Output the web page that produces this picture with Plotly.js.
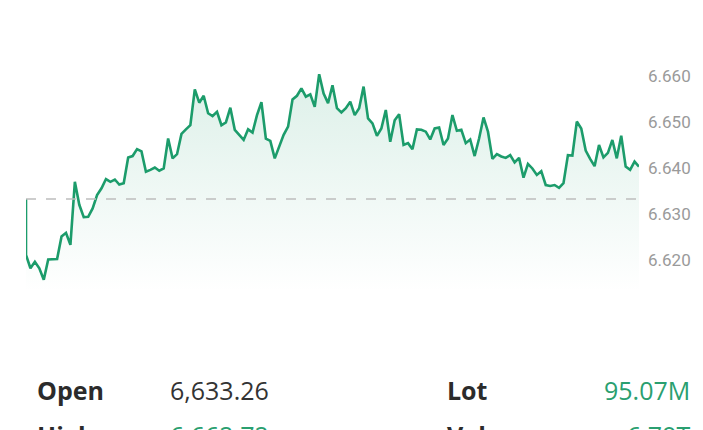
<!DOCTYPE html>
<html>
<head>
<meta charset="utf-8">
<script src="https://cdn.plot.ly/plotly-3.0.1.min.js"></script>
<style>
  html, body { margin: 0; padding: 0; background: #ffffff; }
  #chart { width: 703px; height: 430px; }
</style>
</head>
<body>
<div id="chart"></div>
<script>
// Index level (intraday), first value is the open
const openPrice = 6633.26;
const prices = [
  6633.26, 6621.1, 6618.2, 6619.6, 6618.2, 6615.7, 6620.1, 6620.2, 6620.2, 6625.1,
  6625.9, 6623.3, 6637.0, 6632.0, 6629.3, 6629.4, 6631.2, 6634.1, 6635.6, 6637.6,
  6637.0, 6637.5, 6636.4, 6636.7, 6642.3, 6642.6, 6644.1, 6643.6, 6639.2, 6639.6,
  6640.1, 6639.4, 6639.9, 6646.4, 6642.1, 6643.0, 6647.4, 6648.4, 6649.3, 6657.1,
  6654.2, 6655.7, 6651.9, 6651.3, 6652.2, 6649.3, 6649.9, 6653.1, 6648.3, 6647.2,
  6646.1, 6648.4, 6647.7, 6651.5, 6654.3, 6646.4, 6645.9, 6642.1, 6644.6, 6647.2,
  6649.0, 6654.9, 6655.7, 6657.3, 6655.5, 6656.0, 6653.3, 6660.4, 6656.2, 6654.1,
  6658.0, 6653.0, 6652.1, 6653.0, 6654.4, 6651.5, 6653.0, 6657.7, 6650.8, 6649.7,
  6647.0, 6648.6, 6652.6, 6645.7, 6650.4, 6651.7, 6645.0, 6645.4, 6644.1, 6648.4,
  6648.3, 6647.9, 6646.2, 6648.6, 6648.8, 6645.0, 6646.4, 6651.5, 6648.1, 6648.3,
  6645.4, 6646.2, 6642.6, 6646.4, 6651.0, 6647.9, 6642.0, 6643.0, 6642.5, 6642.2,
  6642.8, 6641.2, 6642.2, 6637.9, 6640.9, 6639.9, 6638.5, 6639.3, 6636.3, 6636.1,
  6636.3, 6635.7, 6636.7, 6642.8, 6642.7, 6650.1, 6648.6, 6643.8, 6642.0, 6640.4,
  6645.0, 6642.3, 6643.3, 6646.1, 6642.1, 6647.0, 6640.3, 6639.6, 6641.4, 6640.3
];
// time step index (the open sits at the same time as the first trade)
const steps = prices.map((_, i) => (i === 0 ? 0 : i - 1));

const tickValues = [6620, 6630, 6640, 6650, 6660];

const statLabels = ["Open", "Lot", "High", "Value"];
const statValues = ["6,633.26", "95.07M", "6,662.72", "6.79T"];

const green = "#1c9c6b";

const trace = {
  x: steps,
  y: prices,
  type: "scatter",
  mode: "lines",
  line: { color: green, width: 2.6 },
  fill: "tozeroy",
  fillgradient: {
    type: "vertical",
    start: 6613,
    stop: 6660,
    colorscale: [[0, "rgba(28,156,107,0)"], [1, "rgba(28,156,107,0.15)"]]
  },
  hoverinfo: "skip"
};

const lastStep = steps[steps.length - 1];

const annFont = "'Open Sans', sans-serif";
const row1 = -0.39, row2 = -0.566;
const annotations = [
  { text: "<b>" + statLabels[0] + "</b>", x: 0.0147, y: row1, xanchor: "left", font: { size: 25, color: "#2b2b2b" } },
  { text: statValues[0], x: 0.2316, y: row1, xanchor: "left", font: { size: 25, color: "#333333" } },
  { text: "<b>" + statLabels[1] + "</b>", x: 0.6835, y: row1, xanchor: "left", font: { size: 25, color: "#2b2b2b" } },
  { text: statValues[1], x: 1.0864, y: row1, xanchor: "right", font: { size: 25, color: "#2a9f70" } },
  { text: "<b>" + statLabels[2] + "</b>", x: 0.0147, y: row2, xanchor: "left", font: { size: 25, color: "#2b2b2b" } },
  { text: statValues[2], x: 0.2316, y: row2, xanchor: "left", font: { size: 25, color: "#2a9f70" } },
  { text: "<b>" + statLabels[3] + "</b>", x: 0.6835, y: row2, xanchor: "left", font: { size: 25, color: "#2b2b2b" } },
  { text: statValues[3], x: 1.0864, y: row2, xanchor: "right", font: { size: 25, color: "#2a9f70" } }
].map(a => Object.assign({
  xref: "paper", yref: "paper", yanchor: "middle", showarrow: false
}, a, { font: Object.assign({ family: annFont }, a.font) }));

const layout = {
  width: 703,
  height: 430,
  margin: { l: 26, r: 64, t: 40, b: 138 },
  paper_bgcolor: "#ffffff",
  plot_bgcolor: "#ffffff",
  separators: ",.",
  showlegend: false,
  xaxis: {
    range: [0, lastStep],
    showgrid: false,
    zeroline: false,
    showline: false,
    showticklabels: false,
    ticks: "",
    fixedrange: true
  },
  yaxis: {
    side: "right",
    range: [6613.04, 6667.83],
    tickvals: tickValues,
    tickformat: ",d",
    showgrid: false,
    zeroline: false,
    showline: false,
    ticks: "",
    ticklabelstandoff: 8,
    tickfont: { family: "Roboto, sans-serif", size: 17, color: "#9a9a9a" },
    fixedrange: true
  },
  shapes: [{
    type: "line",
    xref: "x", yref: "y",
    x0: 0, x1: lastStep,
    y0: openPrice, y1: openPrice,
    line: { color: "#bdbdbd", width: 1.6, dash: "10px,10px" },
    layer: "above"
  }],
  annotations: annotations
};

Plotly.newPlot("chart", [trace], layout, { displayModeBar: false, staticPlot: true });
</script>
</body>
</html>
